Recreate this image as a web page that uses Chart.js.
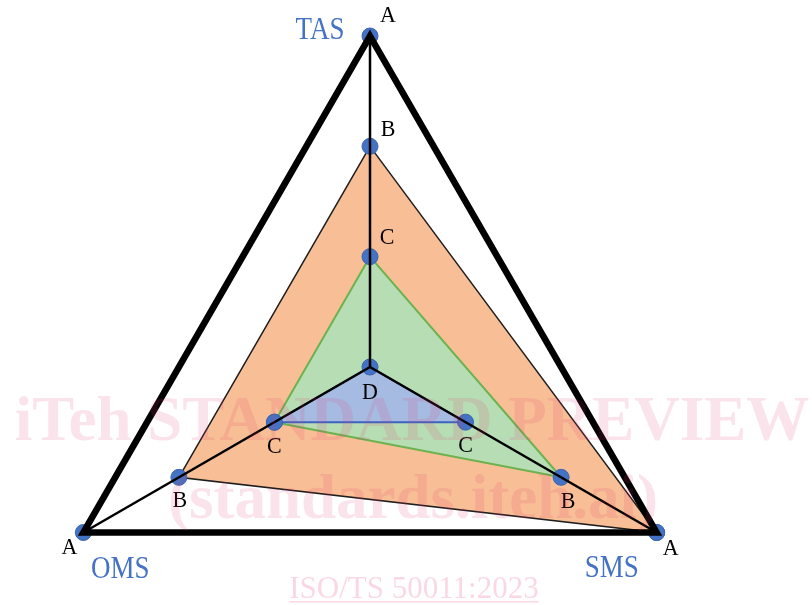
<!DOCTYPE html>
<html>
<head>
<meta charset="utf-8">
<script src="https://cdn.jsdelivr.net/npm/chart.js@4.4.0/dist/chart.umd.min.js"></script>
<style>
  html, body { margin: 0; padding: 0; background: #fff; overflow: hidden; }
  #wrap { width: 812px; height: 605px; overflow: hidden; }
</style>
</head>
<body>
<div id="wrap"><canvas id="chart" width="812" height="700"></canvas></div>
<script>
// axes, clockwise from the top
const axes = ['TAS', 'SMS', 'OMS'];
// level letters for values 0..3
const levelLetters = ['D', 'C', 'B', 'A'];
const outerValues = [3, 3, 3];
const orangeValues = [2, 3, 2];
const greenValues = [1, 2, 1];
const blueValues = [0, 1, 1];
const watermarkLines = ['iTeh STANDARD PREVIEW', '(standards.iteh.ai)'];
const footerText = 'ISO/TS 50011:2023';

const dotColor = '#4472C4';

// where each letter sits relative to its point
const letterOffsets = {
  TAS: { A: [18, -20], B: [18, -17], C: [17, -19], D: [0, 26] },
  SMS: { A: [14, 16], B: [7, 24], C: [0, 24] },
  OMS: { A: [-14, 15], B: [1, 23], C: [0, 25] }
};
const axisNameOffsets = { TAS: [-50, -6], SMS: [-45, 36], OMS: [37, 37] };

function drawText(ctx, text, x, y, font, color, stretch) {
  ctx.save();
  ctx.translate(x, y);
  ctx.scale(1, stretch || 1);
  ctx.font = font;
  ctx.fillStyle = color;
  ctx.textAlign = 'center';
  ctx.textBaseline = 'middle';
  ctx.fillText(text, 0, 0);
  ctx.restore();
}

const labelPlugin = {
  id: 'labels',
  afterDraw(chart) {
    const ctx = chart.ctx;
    const scale = chart.scales.r;
    const done = {};
    [outerValues, orangeValues, greenValues, blueValues].forEach(values => {
      values.forEach((v, i) => {
        const letter = levelLetters[v];
        const key = v === 0 ? 'center' : axes[i] + letter;
        if (done[key]) return;
        done[key] = true;
        const p = scale.getPointPosition(i, scale.getDistanceFromCenterForValue(v));
        const off = letterOffsets[axes[i]][letter];
        drawText(ctx, letter, p.x + off[0], p.y + off[1], '22px "Liberation Serif"', '#000', 1.08);
      });
    });
    axes.forEach((name, i) => {
      const p = scale.getPointPosition(i, scale.getDistanceFromCenterForValue(3));
      const off = axisNameOffsets[name];
      drawText(ctx, name, p.x + off[0], p.y + off[1], '27px "Liberation Serif"', dotColor, 1.2);
    });

    // watermark
    ctx.save();
    ctx.fillStyle = 'rgba(230, 60, 110, 0.14)';
    ctx.textAlign = 'center';
    ctx.textBaseline = 'alphabetic';
    ctx.font = 'bold 63px "Liberation Serif"';
    ctx.fillText(watermarkLines[0], 412, 440);
    ctx.fillText(watermarkLines[1], 413, 518);
    ctx.fillStyle = 'rgba(230, 60, 110, 0.2)';
    ctx.font = '31px "Liberation Serif"';
    ctx.fillText(footerText, 414, 598);
    const w = ctx.measureText(footerText).width;
    ctx.fillRect(414 - w / 2, 601, w, 1.5);
    ctx.restore();
  }
};

const dots = {
  pointRadius: 8,
  pointBackgroundColor: dotColor,
  pointBorderColor: '#3a64ad',
  pointBorderWidth: 1
};

new Chart(document.getElementById('chart'), {
  type: 'radar',
  data: {
    labels: axes,
    datasets: [
      Object.assign({
        data: blueValues,
        backgroundColor: 'rgb(166, 187, 226)',
        borderColor: 'rgb(60, 100, 190)',
        borderWidth: 2
      }, dots),
      Object.assign({
        data: greenValues,
        backgroundColor: 'rgb(183, 221, 180)',
        borderColor: 'rgb(108, 178, 78)',
        borderWidth: 2
      }, dots),
      Object.assign({
        data: orangeValues,
        backgroundColor: 'rgb(248, 190, 150)',
        borderColor: 'rgb(30, 30, 30)',
        borderWidth: 1.5
      }, dots),
      Object.assign({
        data: outerValues,
        fill: false,
        backgroundColor: 'transparent',
        borderColor: 'transparent',
        borderWidth: 0
      }, dots)
    ]
  },
  options: {
    responsive: false,
    animation: false,
    elements: {
      line: { tension: 0 }
    },
    layout: {
      padding: { left: 39, right: 111, top: 36, bottom: 2 }
    },
    plugins: {
      legend: { display: false },
      tooltip: { enabled: false }
    },
    scales: {
      r: {
        min: 0,
        max: 3,
        ticks: { display: false, stepSize: 1 },
        pointLabels: { display: false },
        angleLines: { color: '#000', lineWidth: 2.5 },
        grid: {
          z: 1,
          color: '#000',
          lineWidth: c => (c.tick && c.tick.value === 3 ? 6.5 : 0)
        }
      }
    }
  },
  plugins: [labelPlugin]
});
</script>
</body>
</html>
